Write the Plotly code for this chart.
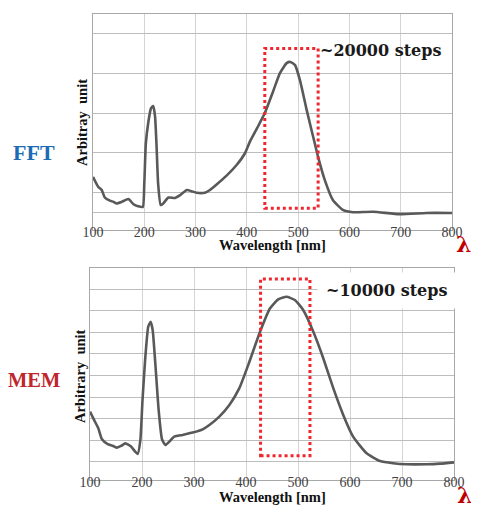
import plotly.graph_objects as go

# page body has an 8px margin; window coordinates are shifted by it
OFF = 8
W, H = 479, 505 - OFF

# ---- data ----
fft_wl = [100, 110, 117, 123, 133, 140, 146, 156, 169, 179, 188, 197, 200, 203, 208, 213, 217.5, 221, 224, 227,
          232, 237, 247, 260, 270, 283, 292, 302, 318, 328, 341, 361, 380, 396, 406, 420, 435, 451, 464.5,
          477.6, 485, 494, 503.5, 516.6, 529.5, 539, 552, 568, 588, 607, 646, 698, 750, 800]
fft_val = [0.89, 0.64, 0.56, 0.37, 0.29, 0.26, 0.22, 0.26, 0.33, 0.20, 0.15, 0.13, 0.72, 1.73, 2.28, 2.62, 2.68,
           2.41, 1.65, 0.72, 0.18, 0.22, 0.37, 0.36, 0.43, 0.56, 0.53, 0.49, 0.49, 0.56, 0.70, 0.93, 1.19, 1.48,
           1.78, 2.12, 2.50, 3.04, 3.51, 3.76, 3.79, 3.71, 3.33, 2.58, 1.89, 1.39, 0.81, 0.30, 0.05, 0.0, 0.01,
           -0.05, -0.02, -0.02]

mem_wl = [100, 108, 116, 123, 134, 143.6, 151, 159.6, 168, 179, 187, 191.7, 196.8, 201, 206, 212, 216.7, 220.5,
          225.6, 232, 238.5, 245, 252.5, 262, 278, 297.5, 316.7, 329.5, 348.7, 368, 387, 406, 427, 446, 462, 478,
          494, 510, 529.5, 548.6, 568, 587, 606, 632, 658, 683, 709, 747.5, 773, 800]
mem_val = [2.32, 1.93, 1.55, 1.04, 0.82, 0.74, 0.65, 0.73, 0.85, 0.70, 0.46, 0.36, 1.0, 2.86, 4.72, 6.26, 6.49,
           6.11, 4.56, 2.40, 1.04, 0.77, 0.93, 1.16, 1.24, 1.35, 1.50, 1.70, 2.09, 2.63, 3.40, 4.60, 6.03, 7.11,
           7.53, 7.65, 7.50, 7.04, 6.03, 4.80, 3.40, 2.17, 1.16, 0.39, 0.03, -0.07, -0.12, -0.12, -0.09, -0.03]

x_ticks = [100, 200, 300, 400, 500, 600, 700, 800]
fft_grid = [0, 0.5, 1.5, 2.5, 3.5, 4.5]
mem_grid = [0, 1, 2, 3, 4, 5, 6, 7, 8]

fft_box = [435, 539, 0.10, 4.13]   # x0, x1, y0, y1
mem_box = [428, 523, 0.28, 8.47]

LINE = "#595959"
SERIF = "Liberation Serif"

fig = go.Figure()
fig.add_trace(go.Scatter(x=fft_wl, y=fft_val, mode="lines", line=dict(color=LINE, width=2.6, shape="spline", smoothing=0.5),
                         xaxis="x", yaxis="y", showlegend=False, hoverinfo="skip"))
fig.add_trace(go.Scatter(x=mem_wl, y=mem_val, mode="lines", line=dict(color=LINE, width=2.6, shape="spline", smoothing=0.5),
                         xaxis="x2", yaxis="y2", showlegend=False, hoverinfo="skip"))

# window pixel -> paper fraction
def px(v): return (v - OFF) / W
def py(v): return 1 - (v - OFF) / H

xcommon = dict(range=[100, 800], tickvals=x_ticks, showgrid=True, gridcolor="#d4d4d4", gridwidth=1,
               showline=True, mirror=True, linecolor="#a8a8a8", linewidth=1, ticks="", zeroline=False,
               tickfont=dict(family=SERIF, size=14, color="#404040"), ticklabelstandoff=-11, fixedrange=True)
ycommon = dict(showgrid=True, gridcolor="#bdbdbd", gridwidth=1, showticklabels=False, ticks="",
               showline=True, mirror=True, linecolor="#a8a8a8", linewidth=1, zeroline=False, fixedrange=True)

fig.update_layout(
    width=W, height=H, margin=dict(l=0, r=0, t=0, b=0, autoexpand=False),
    paper_bgcolor="white", plot_bgcolor="white",
    xaxis=dict(domain=[px(93), px(452)], anchor="y", **xcommon),
    yaxis=dict(domain=[py(230), py(14)], range=[-0.45, 5], tickvals=fft_grid, anchor="x", **ycommon),
    xaxis2=dict(domain=[px(90), px(454)], anchor="y2", **xcommon),
    yaxis2=dict(domain=[py(480), py(267.7)], range=[-0.85, 9], tickvals=mem_grid, anchor="x2", **ycommon),
)

# white patch behind the top label (hides gridlines, not the curve)
fig.add_shape(type="rect", xref="paper", yref="paper", x0=px(305), x1=px(451), y0=py(72), y1=py(27),
              line=dict(width=0), fillcolor="white", layer="between")

red_dot = dict(color="#f0262e", width=3, dash="3px,3px")
fig.add_shape(type="rect", xref="x", yref="y", x0=fft_box[0], x1=fft_box[1], y0=fft_box[2], y1=fft_box[3],
              line=red_dot, layer="above")
fig.add_shape(type="rect", xref="x2", yref="y2", x0=mem_box[0], x1=mem_box[1], y0=mem_box[2], y1=mem_box[3],
              line=red_dot, layer="above")

def note(text, x, y, size, color, family=SERIF, xanchor="center", **kw):
    return dict(text=text, x=px(x), y=py(y), xref="paper", yref="paper", xanchor=xanchor, yanchor="middle",
                showarrow=False, font=dict(family=family, size=size, color=color), **kw)

ann = [
    note("<b>~20000 steps</b>", 318, 50, 16, "#1a1a1a", family="DejaVu Serif", xanchor="left"),
    note("<b>~10000 steps</b>", 317, 290, 16, "#1a1a1a", family="DejaVu Serif", xanchor="left",
         bgcolor="white", borderpad=8),
    note("<b>FFT</b>", 34, 152, 22, "#1b6cb4"),
    note("<b>MEM</b>", 34, 380, 20.5, "#c0272d"),
    note("<b>Arbitray  unit</b>", 82, 123, 14.5, "#111", textangle=-90),
    note("<b>Arbitrary  unit</b>", 80, 376, 14.5, "#111", textangle=-90),
    note("<b>Wavelength [nm]</b>", 272, 245, 14.5, "#111"),
    note("<b>Wavelength [nm]</b>", 272, 497, 14.5, "#111"),
    note("<b>λ</b>", 463, 244, 22, "#c00000", family="DejaVu Serif"),
    note("<b>λ</b>", 464, 495, 22, "#c00000", family="DejaVu Serif"),
]
fig.update_layout(annotations=ann)

fig.write_html("out.html")
